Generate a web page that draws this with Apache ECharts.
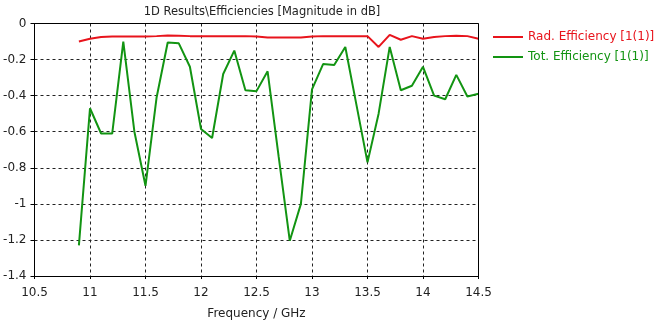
<!DOCTYPE html>
<html>
<head>
<meta charset="utf-8">
<script src="https://cdn.jsdelivr.net/npm/echarts@6/dist/echarts.min.js"></script>
<style>
    html, body { margin: 0; padding: 0; background: #fff; }
    #main { width: 657px; height: 325px; }
</style>
</head>
<body>
<div id="main"></div>
<script>
var freqs = [10.9, 11.0, 11.1, 11.2, 11.3, 11.4, 11.5, 11.6, 11.7, 11.8, 11.9,
             12.0, 12.1, 12.2, 12.3, 12.4, 12.5, 12.6, 12.7, 12.8, 12.9,
             13.0, 13.1, 13.2, 13.3, 13.4, 13.5, 13.6, 13.7, 13.8, 13.9,
             14.0, 14.1, 14.2, 14.3, 14.4, 14.5];
var radEff = [-0.10, -0.085, -0.075, -0.072, -0.072, -0.072, -0.072, -0.07, -0.067, -0.068, -0.07,
              -0.07, -0.07, -0.07, -0.07, -0.07, -0.072, -0.078, -0.078, -0.078, -0.078,
              -0.072, -0.07, -0.07, -0.07, -0.07, -0.07, -0.13, -0.063, -0.09, -0.07,
              -0.085, -0.075, -0.07, -0.068, -0.07, -0.085];
var totEff = [-1.23, -0.47, -0.61, -0.61, -0.10, -0.60, -0.90, -0.41, -0.105, -0.11, -0.24,
              -0.585, -0.635, -0.28, -0.15, -0.37, -0.375, -0.265, -0.74, -1.205, -1.0,
              -0.365, -0.225, -0.23, -0.13, -0.45, -0.77, -0.50, -0.13, -0.37, -0.345,
              -0.24, -0.40, -0.42, -0.285, -0.405, -0.39];
var names = ['Rad. Efficiency [1(1)]', 'Tot. Efficiency [1(1)]'];
var colors = ['#e8141c', '#129412'];

function pairs(ys) {
    var out = [];
    for (var i = 0; i < freqs.length; i++) {
        out.push([freqs[i], ys[i]]);
    }
    return out;
}

var myChart = echarts.init(document.getElementById('main'));
var font = 'DejaVu Sans';
var dashed = { show: true, lineStyle: { color: '#222', type: [3, 3], width: 1 } };

option = {
    animation: false,
    textStyle: { fontFamily: font },
    title: {
        text: '1D Results\\Efficiencies [Magnitude in dB]',
        left: 257, top: 1, textAlign: 'center',
        textStyle: { fontSize: 11.5, fontWeight: 'normal', color: '#222', fontFamily: font }
    },
    legend: {
        orient: 'vertical',
        left: 488, top: 26,
        itemWidth: 30, itemHeight: 2, itemGap: 8,
        icon: 'rect',
        textStyle: { fontSize: 12, fontFamily: font },
        data: [
            { name: names[0], textStyle: { color: colors[0] } },
            { name: names[1], textStyle: { color: colors[1] } }
        ]
    },
    grid: { left: 34.5, right: 178.5, top: 23.5, bottom: 46, containLabel: false, show: false },
    xAxis: {
        type: 'value', min: 10.5, max: 14.5, interval: 0.5,
        name: 'Frequency / GHz', nameLocation: 'middle', nameGap: 32,
        nameTextStyle: { fontSize: 12, color: '#222' },
        axisLine: { show: true, onZero: false, lineStyle: { color: '#000', width: 1 } },
        axisTick: { show: true, length: 3, lineStyle: { color: '#000' } },
        axisLabel: { fontSize: 12, color: '#222', margin: 11 },
        splitLine: dashed
    },
    yAxis: {
        type: 'value', min: -1.4, max: 0, interval: 0.2,
        axisLine: { show: true, onZero: false, lineStyle: { color: '#000', width: 1 } },
        axisTick: { show: true, length: 4, lineStyle: { color: '#000' } },
        axisLabel: { fontSize: 12, color: '#222', margin: 8 },
        splitLine: dashed
    },
    series: [
        {
            name: names[0], type: 'line', data: pairs(radEff),
            showSymbol: false, color: colors[0],
            lineStyle: { width: 2, color: colors[0] }
        },
        {
            name: names[1], type: 'line', data: pairs(totEff),
            showSymbol: false, color: colors[1],
            lineStyle: { width: 2, color: colors[1] }
        },
        {
            // box edges on top and right
            type: 'line', silent: true, data: [],
            markLine: {
                symbol: 'none', silent: true, label: { show: false },
                lineStyle: { color: '#000', type: 'solid', width: 1 },
                data: [{ yAxis: 0 }, { xAxis: 14.5 }]
            }
        }
    ]
};

myChart.setOption(option);
</script>
</body>
</html>
